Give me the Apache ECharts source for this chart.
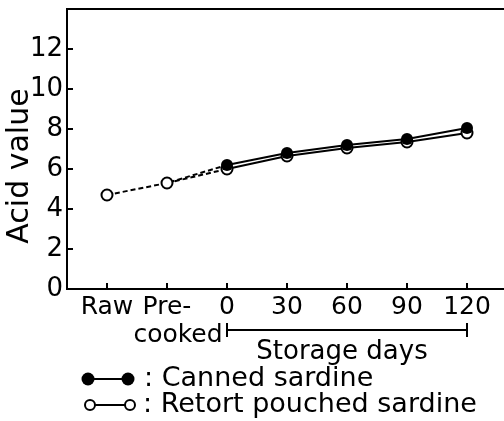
<!DOCTYPE html>
<html>
<head>
<meta charset="utf-8">
<script src="https://cdn.jsdelivr.net/npm/echarts@6/dist/echarts.min.js"></script>
<style>
  html, body { margin: 0; padding: 0; background: #fff; }
  #chart { width: 504px; height: 421px; }
</style>
</head>
<body>
<div id="chart"></div>
<script>
// x positions: 1 = Raw, 2 = Pre-cooked, 3..7 = storage days 0..120
const categories = ['Raw', 'Pre-', '0', '30', '60', '90', '120'];
const secondLine = 'cooked';                // second line of the "Pre-cooked" label
const preStorage = [4.7, 5.3];              // raw, pre-cooked (same sample for both)
const canned = [6.2, 6.8, 7.2, 7.5, 8.05];  // storage days 0, 30, 60, 90, 120
const retort = [6.0, 6.65, 7.05, 7.35, 7.8];
const yTicks = [0, 2, 4, 6, 8, 10, 12];

const font = 'DejaVu Sans';
const tickPos = categories.map((c, i) => i + 1);

let dashCanned = preStorage.map((v, i) => [i + 1, v]);
dashCanned.push({ value: [3, canned[0]], symbol: 'none' });
let dashRetort = [{ value: [2, preStorage[1]], symbol: 'none' }, { value: [3, retort[0]], symbol: 'none' }];

let chartDom = document.getElementById('chart');
let myChart = echarts.init(chartDom);

let option = {
  animation: false,
  grid: {
    left: 67, right: -3, top: 9, bottom: 132,
    show: true, borderColor: '#000', borderWidth: 2,
    containLabel: false, outerBoundsMode: 'none'
  },
  xAxis: {
    type: 'value',
    min: 1 / 3,
    max: 23 / 3,
    splitLine: { show: false },
    axisLine: { show: true, onZero: false, lineStyle: { color: '#000', width: 2 } },
    axisTick: { show: true, inside: true, length: 6, customValues: tickPos, lineStyle: { color: '#000', width: 2 } },
    axisLabel: {
      customValues: tickPos,
      showMinLabel: true,
      showMaxLabel: true,
      hideOverlap: false,
      margin: 6,
      color: '#000',
      fontFamily: font,
      fontSize: 25,
      formatter: function (v) {
        return categories[Math.round(v) - 1] || '';
      }
    }
  },
  yAxis: {
    type: 'value',
    min: 0,
    max: 14,
    interval: 2,
    splitLine: { show: false },
    axisLine: { show: true, onZero: false, lineStyle: { color: '#000', width: 2 } },
    axisTick: { show: true, inside: true, length: 6, lineStyle: { color: '#000', width: 2 } },
    axisLabel: {
      margin: 4,
      color: '#000',
      fontFamily: font,
      fontSize: 26,
      showMaxLabel: false,
      formatter: function (v) { return yTicks.indexOf(v) >= 0 ? String(v) : ''; }
    }
  },
  series: [
    {
      type: 'line',
      data: dashCanned,
      symbol: 'emptyCircle',
      symbolSize: 11,
      lineStyle: { color: '#000', width: 2, type: [5, 3] },
      itemStyle: { color: '#000', borderWidth: 2 },
      z: 2
    },
    {
      type: 'line',
      data: dashRetort,
      lineStyle: { color: '#000', width: 2, type: [5, 3] },
      itemStyle: { color: '#000' },
      z: 2
    },
    {
      type: 'line',
      data: retort.map((v, i) => [i + 3, v]),
      symbol: 'emptyCircle',
      symbolSize: 11,
      lineStyle: { color: '#000', width: 2 },
      itemStyle: { color: '#000', borderWidth: 2 },
      z: 3
    },
    {
      type: 'line',
      data: canned.map((v, i) => [i + 3, v]),
      symbol: 'circle',
      symbolSize: 12,
      lineStyle: { color: '#000', width: 2 },
      itemStyle: { color: '#000' },
      z: 4
    }
  ]
};
myChart.setOption(option);

// storage-days bracket under the axis labels, aligned to the 0 and 120 ticks
let xPre = myChart.convertToPixel({ gridIndex: 0 }, [2, 0])[0];
let x0 = myChart.convertToPixel({ gridIndex: 0 }, [3, 0])[0];
let x1 = myChart.convertToPixel({ gridIndex: 0 }, [7, 0])[0];
let by = 330;
let lineSt = { stroke: '#000', lineWidth: 2 };
let txtSt = { fill: '#000', font: '27px "DejaVu Sans"', textVerticalAlign: 'middle' };

myChart.setOption({
  graphic: [
    { type: 'text', x: xPre + 11, y: 335,
      style: { text: secondLine, fill: '#000', font: '25px "DejaVu Sans"', textAlign: 'center', textVerticalAlign: 'middle' } },
    { type: 'line', shape: { x1: x0, y1: by, x2: x1, y2: by }, style: lineSt },
    { type: 'line', shape: { x1: x0, y1: by - 7, x2: x0, y2: by + 7 }, style: lineSt },
    { type: 'line', shape: { x1: x1, y1: by - 7, x2: x1, y2: by + 7 }, style: lineSt },
    { type: 'text', x: (x0 + x1) / 2 - 5, y: 352, style: Object.assign({ text: 'Storage days', textAlign: 'center' }, txtSt, { font: '26px "DejaVu Sans"' }) },
    // y axis title
    { type: 'text', x: 20, y: 166, rotation: Math.PI / 2,
      style: { text: 'Acid value', fill: '#000', font: '30px "DejaVu Sans"', textAlign: 'center', textVerticalAlign: 'middle' } },
    // legend: canned
    { type: 'line', shape: { x1: 88, y1: 379, x2: 128, y2: 379 }, style: lineSt },
    { type: 'circle', shape: { cx: 88, cy: 379, r: 6.5 }, style: { fill: '#000' } },
    { type: 'circle', shape: { cx: 128, cy: 379, r: 6.5 }, style: { fill: '#000' } },
    { type: 'text', x: 144, y: 379, style: Object.assign({ text: ': Canned sardine', textAlign: 'left' }, txtSt) },
    // legend: retort pouched
    { type: 'line', shape: { x1: 90, y1: 405, x2: 130, y2: 405 }, style: lineSt },
    { type: 'circle', shape: { cx: 90, cy: 405, r: 5 }, style: { fill: '#fff', stroke: '#000', lineWidth: 2 } },
    { type: 'circle', shape: { cx: 130, cy: 405, r: 5 }, style: { fill: '#fff', stroke: '#000', lineWidth: 2 } },
    { type: 'text', x: 143, y: 405, style: Object.assign({ text: ': Retort pouched sardine', textAlign: 'left' }, txtSt) }
  ]
});

window.addEventListener('resize', function () {
  myChart.resize();
});
</script>
</body>
</html>
